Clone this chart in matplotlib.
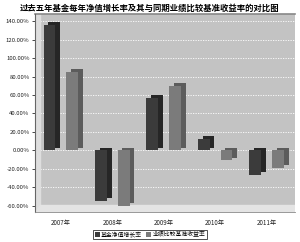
import matplotlib
matplotlib.use("Agg")
import matplotlib.pyplot as plt
import matplotlib.transforms as mtransforms
from matplotlib.patches import Patch
import numpy as np

plt.rcParams['font.family'] = ['Noto Sans CJK SC', 'DejaVu Sans']

years = ['2007年', '2008年', '2009年', '2010年', '2011年']
fund = [136, -55, 57, 12, -27]
bench = [85, -60, 70, -11, -19]
yticks = [-60, -40, -20, 0, 20, 40, 60, 80, 100, 120, 140]

fig = plt.figure(figsize=(3.0, 2.42), dpi=100)
ax = fig.add_axes([0.117, 0.124, 0.866, 0.818])
ax.set_facecolor('#c3c3c3')

x = np.arange(len(years))
w = 0.23
off = 0.22

# depth offset for the fake 3D side of the bars
depth = mtransforms.offset_copy(ax.transData, fig=fig, x=3.4, y=2.0, units='points')

for vals, dx, front, side in [(fund, -off, '#3b3b3b', '#262626'),
                              (bench, off, '#7b7b7b', '#5c5c5c')]:
    ax.bar(x + dx, vals, w, color=side, transform=depth, zorder=2)
    ax.bar(x + dx, vals, w, color=front, zorder=3)

ax.set_xlim(-0.5, 4.55)
ax.set_ylim(-67, 148)
ax.set_yticks(yticks)
ax.set_yticklabels(['%.2f%%' % v for v in yticks], fontsize=4.3, color='#222222')
ax.set_xticks(x)
ax.set_xticklabels(years, fontsize=4.5, color='#222222')
ax.tick_params(axis='y', length=2, width=0.5, pad=2)
ax.tick_params(axis='x', length=0, pad=5)
for v in yticks:
    ax.axhline(v, color='white', lw=0.6, ls=(0, (1.5, 1.5)), zorder=1)

# wall and floor
ax.add_patch(plt.Rectangle((0, 0), 0.02, 1, transform=ax.transAxes, color='#dedede', zorder=1))
ax.add_patch(plt.Polygon([(0, 0), (1, 0), (1.0, 0.035), (0.02, 0.035)], closed=True,
                         transform=ax.transAxes, color='#e4e4e4', zorder=1))
for s in ['top', 'right']:
    ax.spines[s].set_visible(False)
ax.spines['left'].set_color('#666666')
ax.spines['left'].set_linewidth(0.8)
ax.spines['bottom'].set_color('#888888')
ax.spines['bottom'].set_linewidth(0.6)
ax.plot([0, 1], [1, 1], transform=ax.transAxes, color='#888888', lw=1.2, clip_on=False)

fig.text(0.5, 0.965, '过去五年基金每年净值增长率及其与同期业绩比较基准收益率的对比图',
         ha='center', va='center', fontsize=6.0, fontweight='bold')

handles = [Patch(facecolor='#3b3b3b', label='基金净值增长率'),
           Patch(facecolor='#7b7b7b', label='业绩比较基准收益率')]
leg = fig.legend(handles=handles, loc='lower center', bbox_to_anchor=(0.5, 0.0), ncol=2,
                 fontsize=4.2, frameon=True, fancybox=False, handlelength=0.8,
                 handleheight=0.8, handletextpad=0.3, columnspacing=0.6,
                 borderpad=0.3, edgecolor='black')
leg.get_frame().set_linewidth(0.6)

fig.savefig('out.png', dpi=100)
